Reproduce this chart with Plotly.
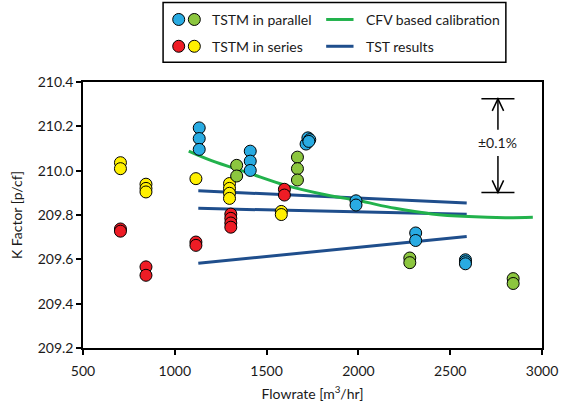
import plotly.graph_objects as go

# ---------------- data ----------------
par_blue_flow = [1133, 1133, 1133, 1411, 1411, 1411, 1715, 1725, 1735, 1730, 1987, 1987, 2312, 2312, 2583, 2583, 2583]
par_blue_k = [210.193, 210.145, 210.096, 210.088, 210.043, 210.001, 210.120, 210.148, 210.140, 210.132, 209.864, 209.845, 209.719, 209.685, 209.598, 209.589, 209.580]

par_green_flow = [1337, 1337, 1668, 1668, 1668, 2280, 2280, 2843, 2843]
par_green_k = [210.024, 209.976, 210.061, 210.009, 209.958, 209.606, 209.585, 209.513, 209.491]

ser_red_flow = [704, 704, 843, 843, 1115, 1115, 1305, 1305, 1305, 1305, 1597, 1597]
ser_red_k = [209.737, 209.727, 209.566, 209.528, 209.678, 209.663, 209.804, 209.785, 209.764, 209.745, 209.916, 209.890]

ser_yellow_flow = [704, 704, 843, 843, 843, 1115, 1298, 1298, 1298, 1298, 1580, 1580]
ser_yellow_k = [210.036, 210.009, 209.939, 209.920, 209.904, 209.964, 209.942, 209.920, 209.898, 209.875, 209.816, 209.802]

cfv_flow = [1076, 1200, 1400, 1600, 1800, 2000, 2200, 2400, 2600, 2800, 2950]
cfv_k = [210.088, 210.045, 209.990, 209.935, 209.895, 209.865, 209.830, 209.805, 209.793, 209.788, 209.790]

tst_flow = [1128, 2590]
tst_upper = [209.909, 209.854]
tst_middle = [209.830, 209.803]
tst_lower = [209.582, 209.703]

x_ticks = [500, 1000, 1500, 2000, 2500, 3000]
y_ticks = [209.2, 209.4, 209.6, 209.8, 210.0, 210.2, 210.4]

# ---------------- styles ----------------
C_BLUE = "#29ABE2"
C_GREEN = "#8CC63F"
C_RED = "#EE1C25"
C_YELLOW = "#FFF000"
C_CFV = "#22B24C"
C_TST = "#1F4E8C"
FONT = "Lato"
TXT = "#1a1a1a"

W, H = 570, 412
ML, MR, MT, MB = 83, 17, 82, 62
PW, PH = W - ML - MR, H - MT - MB


def px(xp):
    return (xp - ML) / PW


def py(yp):
    return (H - MB - yp) / PH


fig = go.Figure()

def add_pts(x, y, color, name):
    fig.add_trace(go.Scatter(
        x=x, y=y, mode="markers", name=name, showlegend=False,
        marker=dict(size=12, color=color, line=dict(color="black", width=1)),
    ))

for yy in (tst_upper, tst_middle, tst_lower):
    fig.add_trace(go.Scatter(x=tst_flow, y=yy, mode="lines", showlegend=False,
                             line=dict(color=C_TST, width=3), name="TST results"))

fig.add_trace(go.Scatter(x=cfv_flow, y=cfv_k, mode="lines", line_shape="spline",
                         showlegend=False, name="CFV based calibration",
                         line=dict(color=C_CFV, width=3)))

add_pts(ser_yellow_flow, ser_yellow_k, C_YELLOW, "TSTM in series")
add_pts(ser_red_flow, ser_red_k, C_RED, "TSTM in series")
add_pts(par_green_flow, par_green_k, C_GREEN, "TSTM in parallel")
add_pts(par_blue_flow, par_blue_k, C_BLUE, "TSTM in parallel")

shapes = []
annotations = []

# ---- +-0.1% bracket ----
bx, bhw = 2760, 90
btop, bbot = 210.324, 209.902
shaft_top_start, shaft_bot_start = 210.185, 210.066
ahw, ahh = 31, 0.054
lk = dict(color="black", width=1.5)
shapes += [
    dict(type="line", xref="x", yref="y", x0=bx - bhw, x1=bx + bhw, y0=btop, y1=btop, line=lk),
    dict(type="line", xref="x", yref="y", x0=bx - bhw, x1=bx + bhw, y0=bbot, y1=bbot, line=lk),
    dict(type="line", xref="x", yref="y", x0=bx, x1=bx, y0=shaft_top_start, y1=btop, line=lk),
    dict(type="line", xref="x", yref="y", x0=bx, x1=bx, y0=shaft_bot_start, y1=bbot, line=lk),
    dict(type="path", xref="x", yref="y", line=lk,
         path=f"M {bx-ahw},{btop-ahh} L {bx},{btop} L {bx+ahw},{btop-ahh}"),
    dict(type="path", xref="x", yref="y", line=lk,
         path=f"M {bx-ahw},{bbot+ahh} L {bx},{bbot} L {bx+ahw},{bbot+ahh}"),
]
annotations.append(dict(x=bx, y=210.128, xref="x", yref="y", text="±0.1%", showarrow=False,
                        font=dict(family=FONT, size=14, color=TXT)))

# ---- manual legend ----
shapes.append(dict(type="rect", xref="paper", yref="paper", x0=px(165), x1=px(516),
                   y0=py(62), y1=py(2), line=dict(color="black", width=1.5), fillcolor="white"))
rows = [19, 46]
for (ry, c1, c2, t1, lc, t2) in [
    (rows[0], C_BLUE, C_GREEN, "TSTM in parallel", C_CFV, "CFV based calibration"),
    (rows[1], C_RED, C_YELLOW, "TSTM in series", C_TST, "TST results"),
]:
    for cx, col in ((181, c1), (197, c2)):
        shapes.append(dict(type="circle", xref="paper", yref="paper", xsizemode="pixel", ysizemode="pixel",
                           xanchor=px(cx), yanchor=py(ry), x0=-6, x1=6, y0=-6, y1=6,
                           fillcolor=col, line=dict(color="black", width=1)))
    shapes.append(dict(type="line", xref="paper", yref="paper", x0=px(332), x1=px(360),
                       y0=py(ry), y1=py(ry), line=dict(color=lc, width=3)))
    annotations.append(dict(x=px(213), y=py(ry), xref="paper", yref="paper", text=t1, showarrow=False,
                            xanchor="left", yanchor="middle", font=dict(family=FONT, size=14, color=TXT)))
    annotations.append(dict(x=px(371), y=py(ry), xref="paper", yref="paper", text=t2, showarrow=False,
                            xanchor="left", yanchor="middle", font=dict(family=FONT, size=14, color=TXT)))

axis_common = dict(showline=True, linecolor="black", linewidth=1.5, mirror=True,
                   ticks="outside", ticklen=5, tickwidth=1.5, tickcolor="black",
                   showgrid=False, zeroline=False,
                   tickfont=dict(family=FONT, size=14, color=TXT))

fig.update_layout(
    width=W, height=H,
    margin=dict(l=ML, r=MR, t=MT, b=MB),
    plot_bgcolor="white", paper_bgcolor="white",
    showlegend=False,
    shapes=shapes, annotations=annotations,
    xaxis=dict(range=[500, 3000], tickvals=x_ticks, ticklabelstandoff=4, **axis_common,
               title=dict(text="Flowrate [m<sup>3</sup>/hr]", standoff=12,
                          font=dict(family=FONT, size=14, color=TXT))),
    yaxis=dict(range=[209.2, 210.4], tickvals=y_ticks, tickformat=".1f", **axis_common,
               title=dict(text="K Factor [p/cf]", standoff=12,
                          font=dict(family=FONT, size=14, color=TXT))),
)

fig.write_html("out.html")
